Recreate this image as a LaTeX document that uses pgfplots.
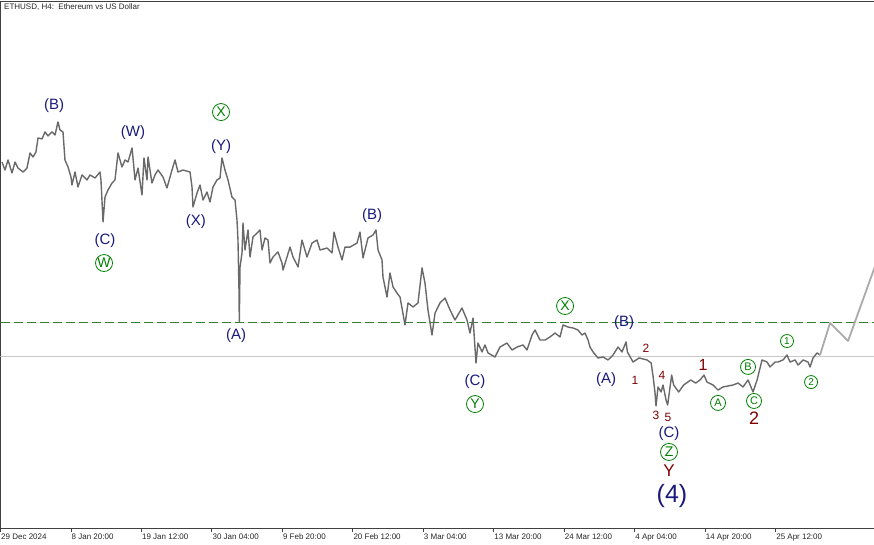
\documentclass[border=0pt]{standalone}
\usepackage{pgfplots}
\pgfplotsset{compat=1.18}
\usepackage{pgfplotstable}
\usepackage{fontspec}
\setmainfont{Liberation Sans}
\definecolor{navyw}{RGB}{25,25,125}
\definecolor{greenw}{RGB}{0,128,0}
\definecolor{redw}{RGB}{128,0,0}
\definecolor{dashg}{RGB}{50,128,50}
\definecolor{pricec}{RGB}{105,105,105}
\definecolor{projc}{RGB}{170,170,170}
\definecolor{framec}{RGB}{64,64,64}
\definecolor{hlinec}{RGB}{200,200,200}

\pgfplotstableread{
d p
0.23 3422
0.68 3357
1.14 3439
1.74 3333
2.20 3422
2.65 3373
3.41 3341
4.01 3373
4.47 3496
4.92 3463
5.37 3504
5.68 3618
6.28 3610
6.74 3667
7.19 3634
7.80 3667
8.25 3642
8.70 3748
9.01 3683
9.46 3667
9.76 3439
10.22 3382
10.67 3300
10.82 3235
11.28 3341
11.73 3219
12.34 3317
13.09 3276
13.55 3317
14.31 3292
15.06 3341
15.21 3276
15.52 2934
15.82 3137
16.27 3194
16.88 3251
17.33 3276
17.79 3496
18.39 3382
18.85 3439
19.30 3422
19.91 3536
20.06 3455
20.36 3276
20.82 3373
21.42 3154
21.72 3455
22.18 3276
22.33 3463
22.93 3251
23.39 3317
23.84 3357
24.60 3300
25.20 3211
25.96 3357
26.42 3439
26.87 3341
27.63 3357
28.69 3341
28.99 3219
29.14 3056
29.75 3170
30.20 3235
30.66 3113
31.26 3178
31.71 3097
32.17 3219
32.77 3276
33.23 3292
33.53 3455
33.98 3357
34.44 3276
35.04 3137
35.50 3113
35.80 2950
35.95 2787
36.10 2380
36.15 2120
36.26 2568
36.56 2682
36.71 2926
37.01 2706
37.47 2869
37.77 2649
38.22 2812
38.83 2844
39.28 2869
39.59 2706
40.04 2804
40.49 2787
40.80 2600
41.25 2649
42.01 2690
42.61 2600
42.77 2543
43.37 2649
43.83 2730
44.28 2649
45.04 2568
45.64 2787
46.40 2649
47.16 2763
47.91 2787
48.37 2706
49.43 2722
50.18 2682
50.49 2852
51.09 2730
51.70 2625
52.15 2730
52.91 2730
53.97 2763
54.42 2852
54.88 2641
55.63 2804
56.39 2828
56.84 2869
57.15 2706
57.75 2625
57.90 2486
58.51 2323
58.96 2519
59.42 2405
60.02 2356
60.48 2323
61.23 2096
61.69 2275
62.45 2242
63.20 2275
63.81 2560
64.26 2437
64.71 2218
65.32 2014
65.78 2193
66.53 2275
67.29 2315
68.05 2218
68.80 2136
69.86 2234
70.62 2136
71.07 2030
71.53 2152
71.98 1786
72.28 1949
72.89 1876
73.34 1933
73.80 1868
74.86 1835
75.61 1916
76.67 1949
77.43 1892
78.19 1916
79.10 1933
79.70 1892
80.46 2014
80.91 2055
81.67 1973
82.43 1973
83.18 1998
83.94 2030
84.70 1998
85.15 2096
85.91 2079
86.67 2071
87.42 2055
88.03 2014
88.48 2030
88.94 1973
89.24 1916
89.70 1876
90.45 1827
91.21 1835
91.97 1811
92.72 1851
93.48 1916
94.08 1876
94.70 1957
94.90 1876
95.75 1794
96.66 1827
97.87 1811
98.50 1786
98.80 1672
99.08 1543
99.23 1436
99.54 1591
100.00 1550
100.29 1607
100.75 1485
100.99 1444
101.60 1688
101.90 1607
102.66 1550
103.42 1607
104.48 1648
105.24 1623
105.89 1648
106.50 1688
106.95 1631
107.86 1607
108.62 1566
109.37 1591
110.89 1607
111.65 1623
112.40 1591
113.16 1648
113.92 1550
114.53 1648
115.28 1811
116.04 1794
116.49 1754
117.25 1794
117.70 1794
118.46 1811
119.06 1851
119.52 1794
120.28 1811
120.73 1770
121.49 1811
122.24 1794
122.55 1754
123.00 1827
123.61 1868
124.06 1851
}\pricedata

\pgfplotstableread{
d p
124.06 1851
125.57 2112
128.30 1965
132.23 2551
133.90 2804
}\projdata

\begin{document}
\begin{tikzpicture}[
  wlab/.style={font=\fontsize{15}{15}\selectfont, text=navyw, inner sep=0pt},
  wsml/.style={font=\fontsize{12}{12}\selectfont, text=redw, inner sep=0pt},
  wcbig/.style={circle, draw=greenw, line width=0.8pt, inner sep=0pt, minimum size=17pt, text=greenw, font=\fontsize{14}{14}\selectfont},
  wcmid/.style={circle, draw=greenw, line width=0.8pt, inner sep=0pt, minimum size=15pt, text=greenw, font=\fontsize{11}{11}\selectfont},
  wcsml/.style={circle, draw=greenw, line width=0.8pt, inner sep=0pt, minimum size=13pt, text=greenw, font=\fontsize{10}{10}\selectfont}
]
\begin{axis}[
  name=ax,
  at={(0.5pt,17pt)}, anchor=south west,
  scale only axis, width=873.5pt, height=527pt,
  xmin=0, xmax=132.23, ymin=443, ymax=4733,
  axis x line*=bottom, axis y line*=left,
  ytick=\empty,
  xtick={0,10.667,21.333,32,42.667,53.333,64,74.667,85.333,96,106.667,117.333},
  xticklabels={29 Dec 2024, 8 Jan 20:00, 19 Jan 12:00, 30 Jan 04:00, 9 Feb 20:00, 20 Feb 12:00, 3 Mar 04:00, 13 Mar 20:00, 24 Mar 12:00, 4 Apr 04:00, 14 Apr 20:00, 25 Apr 12:00},
  tick align=outside, major tick length=4pt,
  xticklabel style={anchor=north west, inner sep=0pt, xshift=0.5pt, yshift=-1.6pt, font=\fontsize{8}{8}\selectfont, text=black!85},
  axis line style={framec, line width=0.8pt},
  tick style={framec, line width=0.8pt},
]
\addplot[hlinec, line width=0.8pt] coordinates {(0,1843) (132.23,1843)};
\addplot[dashg, line width=0.8pt, dash pattern=on 9pt off 4pt] coordinates {(0,2115) (132.23,2115)};
\addplot[pricec, line width=1.4pt, line join=round] table[x=d,y=p] {\pricedata};
\addplot[projc, line width=1.8pt, line join=round] table[x=d,y=p] {\projdata};

\node[wlab] at (axis cs:8.10,3878) {(B)};
\node[wlab] at (axis cs:20.06,3658) {(W)};
\node[wlab] at (axis cs:15.82,2779) {(C)};
\node[wcbig] at (axis cs:15.67,2600) {W};
\node[wlab] at (axis cs:29.59,2934) {(X)};
\node[wlab] at (axis cs:33.38,3544) {(Y)};
\node[wcbig] at (axis cs:33.38,3829) {X};
\node[wlab] at (axis cs:35.65,2006) {(A)};
\node[wlab] at (axis cs:56.24,2983) {(B)};
\node[wlab] at (axis cs:71.83,1631) {(C)};
\node[wcbig] at (axis cs:71.83,1452) {Y};
\node[wcbig] at (axis cs:85.46,2250) {X};
\node[wlab] at (axis cs:94.39,2112) {(B)};
\node[wlab] at (axis cs:91.66,1648) {(A)};
\node[wsml] at (axis cs:96.05,1648) {1};
\node[wsml] at (axis cs:97.72,1908) {2};
\node[wsml] at (axis cs:99.23,1363) {3};
\node[wsml] at (axis cs:100.14,1689) {4};
\node[wsml] at (axis cs:101.05,1339) {5};
\node[wlab] at (axis cs:101.20,1208) {(C)};
\node[wcbig] at (axis cs:101.20,1062) {Z};
\node[font=\fontsize{17}{17}\selectfont, text=redw, inner sep=0pt] at (axis cs:101.20,907) {Y};
\node[font=\fontsize{25}{25}\selectfont, text=navyw, inner sep=0pt] at (axis cs:101.65,700) {(4)};
\node[font=\fontsize{16}{16}\selectfont, text=redw, inner sep=0pt] at (axis cs:106.35,1770) {1};
\node[wcmid] at (axis cs:108.62,1461) {A};
\node[wcmid] at (axis cs:113.16,1754) {B};
\node[wcmid] at (axis cs:114.07,1477) {C};
\node[font=\fontsize{18}{18}\selectfont, text=redw, inner sep=0pt] at (axis cs:114.07,1339) {2};
\node[wcsml] at (axis cs:119.06,1965) {1};
\node[wcsml] at (axis cs:122.70,1631) {2};
\end{axis}
\draw[framec, line width=0.8pt] (ax.north west) -- (ax.north east);
\node[anchor=north west, inner sep=0pt, font=\fontsize{8}{8}\selectfont, text=black!85] at (4pt,541pt) {ETHUSD, H4:\ \ Ethereum vs US Dollar};
\pgfresetboundingbox
\path[use as bounding box] (0,0) rectangle (874pt,545pt);
\end{tikzpicture}
\end{document}
